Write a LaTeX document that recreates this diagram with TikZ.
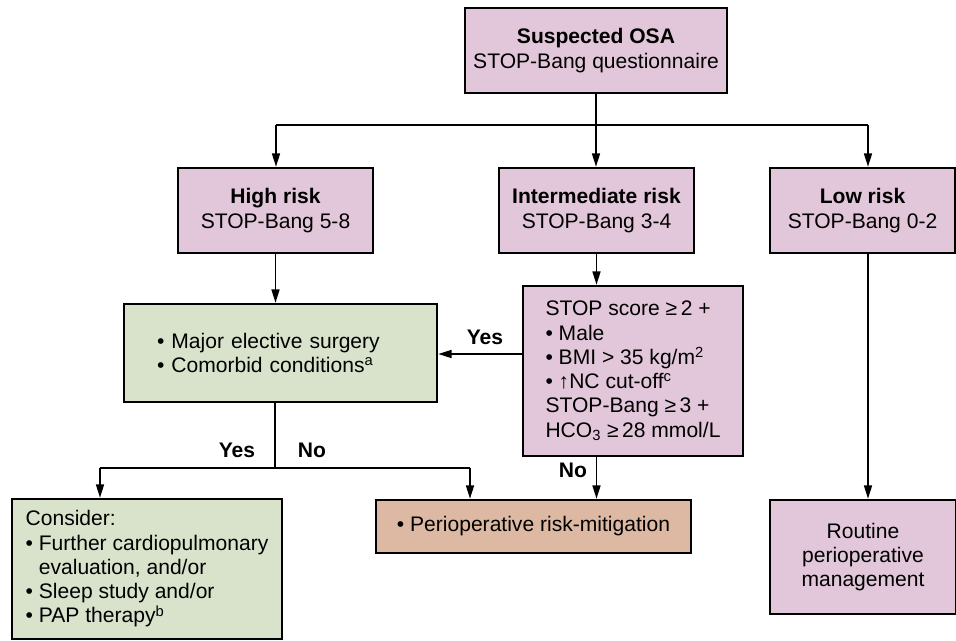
\documentclass[tikz,border=0pt]{standalone}
\usepackage{fontspec}
\setmainfont{Liberation Sans}
\usetikzlibrary{arrows.meta,calc}
\definecolor{pinkf}{RGB}{226,199,218}
\definecolor{greenf}{RGB}{217,227,204}
\definecolor{tanf}{RGB}{221,184,162}
\begin{document}
\begin{tikzpicture}[x=0.75pt,y=-0.75pt,
  font=\fontsize{15.8}{18.2}\selectfont,
  box/.style={draw=black, line width=1.9pt, inner sep=0pt, align=center},
  pinkbox/.style={box, fill=pinkf},
  greenbox/.style={box, fill=greenf},
  tanbox/.style={box, fill=tanf},
  conn/.style={line width=1.2pt},
  arr/.style={conn, -{Triangle[length=10pt,width=6pt]}},
  lbl/.style={font=\fontsize{15.8}{18.2}\selectfont\bfseries}
]
\useasboundingbox (0,0) rectangle (956,640);

% boxes
\node[pinkbox, minimum width=196.5pt, minimum height=63.75pt] (top) at (596,50.5)
  {\textbf{Suspected OSA}\\STOP-Bang questionnaire};
\node[pinkbox, minimum width=146.25pt, minimum height=63.75pt] (high) at (275.5,210.5)
  {\textbf{High risk}\\STOP-Bang 5-8};
\node[pinkbox, minimum width=146.25pt, minimum height=63.75pt] (inter) at (596.5,210.5)
  {\textbf{Intermediate risk}\\STOP-Bang 3-4};
\node[pinkbox, minimum width=138.75pt, minimum height=63.75pt] (low) at (862.5,210.5)
  {\textbf{Low risk}\\STOP-Bang 0-2};
\node[greenbox, minimum width=234.75pt, minimum height=73.5pt, align=left, text width=185.25pt] (major) at (280.5,353)
  {• Major elective surgery\\• Comorbid conditions\textsuperscript{a}};
\node[pinkbox, minimum width=165pt, minimum height=127.5pt, align=left] (crit) at (633,371)
  {STOP score ≥\,2 +\\• Male\\• BMI > 35 kg/m\textsuperscript{2}\\• ↑NC cut-off\textsuperscript{c}\\STOP-Bang ≥\,3 +\\HCO\textsubscript{3} ≥\,28 mmol/L};
\node[greenbox, minimum width=202.5pt, minimum height=105pt, align=left] (consider) at (147,569)
  {Consider:\\• Further cardiopulmonary\\\hphantom{• }evaluation, and/or\\• Sleep study and/or\\• PAP therapy\textsuperscript{b}};
\node[tanbox, minimum width=236.25pt, minimum height=39.75pt, align=left] (periop) at (533.5,526.5)
  {• Perioperative risk-mitigation};
\node[pinkbox, minimum width=139.5pt, minimum height=85.5pt] (routine) at (863,557)
  {Routine\\perioperative\\management};

% connectors
\coordinate (bl) at (276,125);
\coordinate (br) at (868,125);
\draw[arr] (top.south) -- (top.south |- inter.north);
\draw[conn] (bl) -- (br);
\draw[arr] (bl) -- (bl |- high.north);
\draw[arr] (br) -- (br |- low.north);
\draw[arr] (high.south) -- (high.south |- major.north);
\draw[arr] (inter.south) -- (inter.south |- crit.north);
\draw[arr] (br |- low.south) -- (br |- routine.north);

\coordinate (yesp) at ($(crit.west)+(0,-17)$);
\draw[arr] (yesp) -- (yesp -| major.east);
\node[lbl] (yes1) at (485,337) {Yes};

\draw[arr] (inter.south |- crit.south) -- (inter.south |- periop.north);
\node[lbl] (no1) at (573,470) {No};

\coordinate (bj) at (275,468);
\coordinate (bjl) at (100,468);
\coordinate (bjr) at (470,468);
\draw[conn] (bj |- major.south) -- (bj);
\draw[conn] (bjl) -- (bjr);
\draw[arr] (bjl) -- (bjl |- consider.north);
\draw[arr] (bjr) -- (bjr |- periop.north);
\node[lbl] (yes2) at (237,450) {Yes};
\node[lbl] (no2) at (312,450) {No};
\end{tikzpicture}
\end{document}
